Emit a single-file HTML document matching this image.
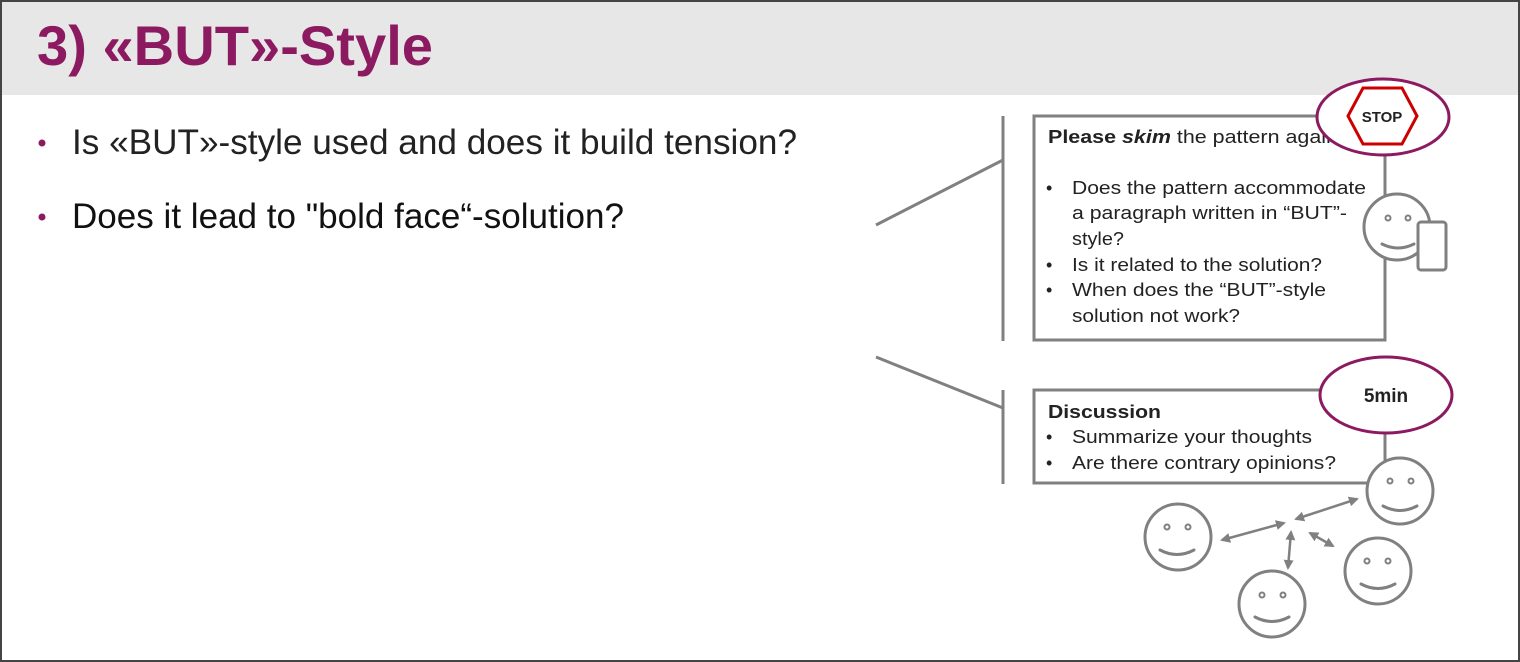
<!DOCTYPE html>
<html><head><meta charset="utf-8"><style>
html,body{margin:0;padding:0;background:#fff}
svg{display:block}
text{font-family:"Liberation Sans",sans-serif}
</style></head><body>
<svg width="1520" height="662" viewBox="0 0 1520 662" xmlns="http://www.w3.org/2000/svg">
<rect x="0" y="0" width="1520" height="662" fill="#fff"/>
<rect x="0" y="0" width="1520" height="95" fill="#e7e7e7"/>
<rect x="1" y="1" width="1518" height="660" fill="none" stroke="#444" stroke-width="2"/>
<text x="37" y="65" font-size="56" font-weight="bold" fill="#8c1a60" textLength="396" lengthAdjust="spacingAndGlyphs">3) «BUT»-Style</text>
<circle cx="42" cy="143" r="3.5" fill="#8c1a60"/>
<circle cx="42" cy="217" r="3.5" fill="#8c1a60"/>
<text x="72" y="154" font-size="35" fill="#222" textLength="725" lengthAdjust="spacingAndGlyphs">Is «BUT»-style used and does it build tension?</text>
<text x="72" y="228" font-size="35" fill="#111" textLength="552" lengthAdjust="spacingAndGlyphs">Does it lead to "bold face“-solution?</text>
<g stroke="#808080" stroke-width="3" fill="none">
<line x1="876" y1="225" x2="1003" y2="160"/>
<line x1="1003" y1="116" x2="1003" y2="341"/>
<line x1="876" y1="357" x2="1003" y2="408"/>
<line x1="1003" y1="390" x2="1003" y2="484"/>
<rect x="1034" y="116" width="351" height="224"/>
<rect x="1034" y="390" width="351" height="93"/>
<line x1="1385" y1="433" x2="1385" y2="462"/>
</g>
<g font-size="18" fill="#222" lengthAdjust="spacingAndGlyphs">
<text x="1048" y="143" textLength="290" lengthAdjust="spacingAndGlyphs"><tspan font-weight="bold">Please <tspan font-style="italic">skim</tspan></tspan> the pattern again</text>
<text x="1046" y="194">•</text><text x="1072" y="194" textLength="294" lengthAdjust="spacingAndGlyphs">Does the pattern accommodate</text>
<text x="1072" y="219" textLength="275" lengthAdjust="spacingAndGlyphs">a paragraph written in “BUT”-</text>
<text x="1072" y="245" textLength="52" lengthAdjust="spacingAndGlyphs">style?</text>
<text x="1046" y="271">•</text><text x="1072" y="271" textLength="250" lengthAdjust="spacingAndGlyphs">Is it related to the solution?</text>
<text x="1046" y="296">•</text><text x="1072" y="296" textLength="254" lengthAdjust="spacingAndGlyphs">When does the “BUT”-style</text>
<text x="1072" y="322" textLength="168" lengthAdjust="spacingAndGlyphs">solution not work?</text>
<text x="1048" y="418" font-weight="bold" textLength="113" lengthAdjust="spacingAndGlyphs">Discussion</text>
<text x="1046" y="443">•</text><text x="1072" y="443" textLength="240" lengthAdjust="spacingAndGlyphs">Summarize your thoughts</text>
<text x="1046" y="469">•</text><text x="1072" y="469" textLength="264" lengthAdjust="spacingAndGlyphs">Are there contrary opinions?</text>
</g>
<ellipse cx="1383" cy="117" rx="66" ry="38" fill="#fff" stroke="#8c1a60" stroke-width="3"/>
<polygon points="1348,116 1363,88 1402,88 1417,116 1402,144 1363,144" fill="#fff" stroke="#c00" stroke-width="3"/>
<text x="1382" y="122" font-size="15" font-weight="bold" fill="#222" text-anchor="middle">STOP</text>
<ellipse cx="1386" cy="395" rx="66" ry="38" fill="#fff" stroke="#8c1a60" stroke-width="3"/>
<text x="1386" y="402" font-size="19" font-weight="bold" fill="#222" text-anchor="middle">5min</text>
<g stroke="#808080" stroke-width="3" fill="#fff">
<circle cx="1397" cy="227" r="33"/>
<rect x="1418" y="222" width="28" height="48" rx="3"/>
<circle cx="1400" cy="491" r="33"/>
<circle cx="1178" cy="537" r="33"/>
<circle cx="1272" cy="604" r="33"/>
<circle cx="1378" cy="571" r="33"/>
</g>
<g stroke="#808080" stroke-width="3" fill="none" stroke-linecap="round">
<path d="M1382 244 q16 8 32 0"/>
<path d="M1383 506 q17 9 34 0"/>
<path d="M1160 550 q17 9 34 0"/>
<path d="M1255 617 q17 9 34 0"/>
<path d="M1361 584 q17 9 34 0"/>
</g>
<g fill="none" stroke="#808080" stroke-width="2">
<circle cx="1388" cy="218" r="2.5"/><circle cx="1408" cy="218" r="2.5"/>
<circle cx="1390" cy="481" r="2.5"/><circle cx="1411" cy="481" r="2.5"/>
<circle cx="1167" cy="527" r="2.5"/><circle cx="1188" cy="527" r="2.5"/>
<circle cx="1262" cy="595" r="2.5"/><circle cx="1283" cy="595" r="2.5"/>
<circle cx="1367" cy="561" r="2.5"/><circle cx="1388" cy="561" r="2.5"/>
</g>
<defs><marker id="a" viewBox="0 0 10 10" refX="8" refY="5" markerWidth="4" markerHeight="4" orient="auto-start-reverse"><path d="M0 0L10 5L0 10z" fill="#808080"/></marker></defs>
<g stroke="#808080" stroke-width="2.5" marker-start="url(#a)" marker-end="url(#a)">
<line x1="1222" y1="540" x2="1284" y2="523"/>
<line x1="1296" y1="519" x2="1357" y2="499"/>
<line x1="1291" y1="532" x2="1288" y2="568"/>
<line x1="1310" y1="533" x2="1333" y2="546"/>
</g>
</svg>
</body></html>
